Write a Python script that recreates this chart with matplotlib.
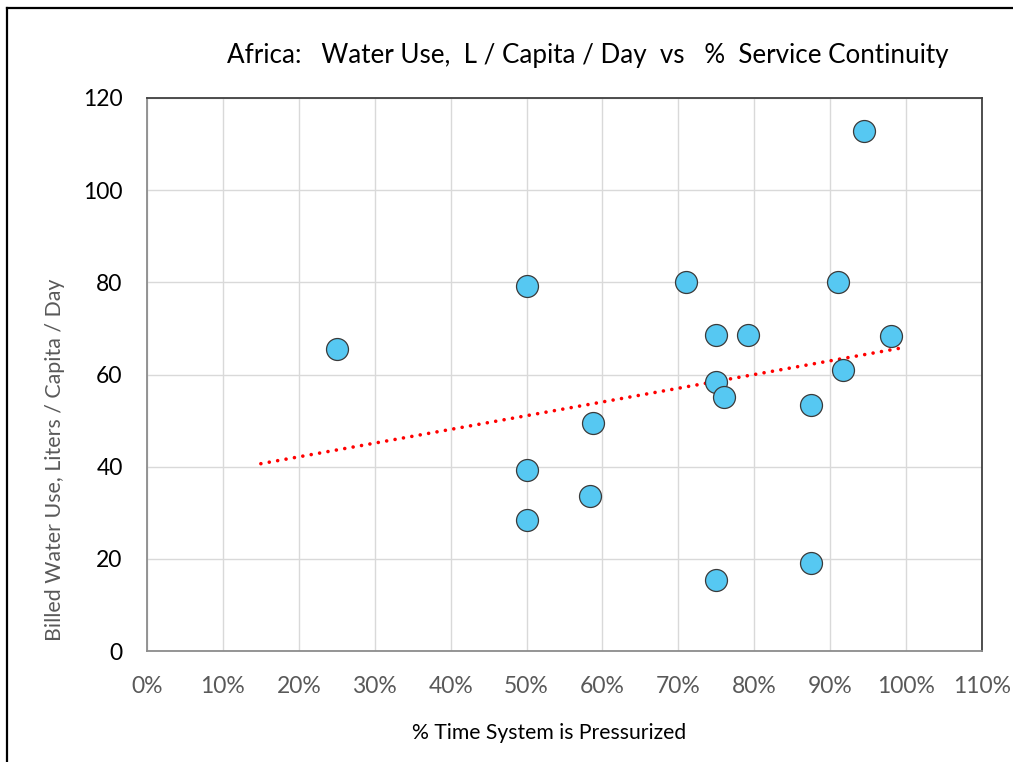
import numpy as np
import matplotlib
matplotlib.use("Agg")
import matplotlib.pyplot as plt
from matplotlib.lines import Line2D
from matplotlib.ticker import FuncFormatter, MultipleLocator

plt.rcParams['font.family'] = ['Lato', 'DejaVu Sans']

# Data: % time system is pressurized vs billed water use (L/capita/day)
pressurized = [0.25, 0.50, 0.50, 0.50, 0.583, 0.588, 0.71, 0.75, 0.75, 0.75,
               0.76, 0.792, 0.875, 0.875, 0.91, 0.917, 0.945, 0.98]
water_use = [65.5, 79.1, 39.3, 28.4, 33.7, 49.5, 80.0, 68.6, 58.3, 15.5,
             55.2, 68.5, 53.3, 19.2, 80.0, 61.0, 112.8, 68.4]

title = "Africa:   Water Use,  L / Capita / Day  vs   %  Service Continuity"
xlabel = "% Time System is Pressurized"
ylabel = "Billed Water Use, Liters / Capita / Day"
trend_range = (0.15, 1.00)

fig = plt.figure(figsize=(10.13, 7.62), dpi=100)
ax = fig.add_axes([147/1013, 1-651/762, (982-147)/1013, (651-98)/762])

ax.set_xlim(0, 1.10)
ax.set_ylim(0, 120)
ax.xaxis.set_major_locator(MultipleLocator(0.10))
ax.yaxis.set_major_locator(MultipleLocator(20))
ax.xaxis.set_major_formatter(FuncFormatter(lambda v, p: f"{v*100:.0f}%"))
ax.grid(True, color='#d9d9d9', linewidth=1.0)
ax.set_axisbelow(True)

# Trendline (linear least squares)
slope, intercept = np.polyfit(pressurized, water_use, 1)
tx = np.array(trend_range)
ax.plot(tx, slope*tx + intercept, color='#ff0000', linewidth=2.6,
        linestyle=(0, (0.01, 2.35)), dash_capstyle='round', zorder=2)

ax.scatter(pressurized, water_use, s=250, color='#56c8f2',
           edgecolors='#3a3a3a', linewidths=0.9, zorder=3)

for side in ['left', 'bottom']:
    ax.spines[side].set_color('#8c8c8c')
    ax.spines[side].set_linewidth(1.3)
for side in ['top', 'right']:
    ax.spines[side].set_color('#404040')
    ax.spines[side].set_linewidth(1.3)

ax.tick_params(axis='both', length=0)
ax.tick_params(axis='x', labelsize=16.5, labelcolor='#595959', pad=18)
ax.tick_params(axis='y', labelsize=16.5, labelcolor='#000000', pad=17.5)

fig.text(588/1013, 1-55/762, title, ha='center', va='center', fontsize=18.7, color='#000000')
fig.text(549/1013, 1-733/762, xlabel, ha='center', va='center', fontsize=15.2, color='#000000')
fig.text(55/1013, 1-460/762, ylabel, ha='center', va='center', rotation=90,
         fontsize=15.4, color='#595959')

# Outer frame (left and top edges visible)
fig.add_artist(Line2D([7/1013, 7/1013], [0, 1-8/762], transform=fig.transFigure,
                      color='#000000', linewidth=1.6))
fig.add_artist(Line2D([7/1013, 1], [1-8/762, 1-8/762], transform=fig.transFigure,
                      color='#000000', linewidth=1.6))

fig.savefig("out.png", dpi=100)
